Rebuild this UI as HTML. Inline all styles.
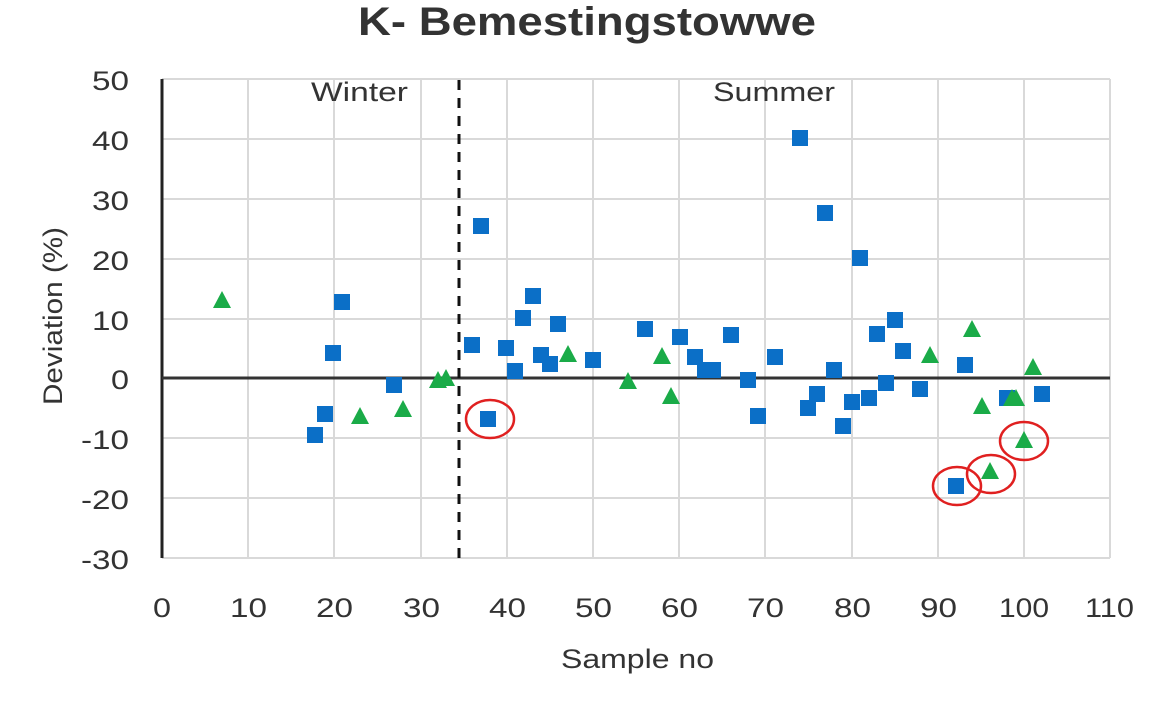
<!DOCTYPE html>
<html><head><meta charset="utf-8"><style>body{margin:0;background:#fff}svg{display:block}</style></head><body>
<svg width="1176" height="701" xmlns="http://www.w3.org/2000/svg" font-family="Liberation Sans, sans-serif">
<rect width="1176" height="701" fill="#fff"/>
<text x="587" y="35" text-anchor="middle" font-size="40" font-weight="bold" fill="#333" textLength="458" lengthAdjust="spacingAndGlyphs">K- Bemestingstowwe</text>
<g stroke="#d9d9d9" stroke-width="2">
<line x1="162" y1="79" x2="1110" y2="79"/><line x1="162" y1="139" x2="1110" y2="139"/><line x1="162" y1="199" x2="1110" y2="199"/><line x1="162" y1="259" x2="1110" y2="259"/><line x1="162" y1="319" x2="1110" y2="319"/><line x1="162" y1="438" x2="1110" y2="438"/><line x1="162" y1="498" x2="1110" y2="498"/><line x1="162" y1="558" x2="1110" y2="558"/>
<line x1="248" y1="79" x2="248" y2="558"/><line x1="334" y1="79" x2="334" y2="558"/><line x1="421" y1="79" x2="421" y2="558"/><line x1="507" y1="79" x2="507" y2="558"/><line x1="593" y1="79" x2="593" y2="558"/><line x1="679" y1="79" x2="679" y2="558"/><line x1="765" y1="79" x2="765" y2="558"/><line x1="852" y1="79" x2="852" y2="558"/><line x1="938" y1="79" x2="938" y2="558"/><line x1="1024" y1="79" x2="1024" y2="558"/><line x1="1110" y1="79" x2="1110" y2="558"/>
</g>
<line x1="162" y1="79" x2="162" y2="558" stroke="#222" stroke-width="3"/>
<line x1="162" y1="378" x2="1110" y2="378" stroke="#333" stroke-width="3"/>
<line x1="459" y1="80" x2="459" y2="558" stroke="#111" stroke-width="3" stroke-dasharray="10,8"/>
<text x="311" y="101" font-size="27" fill="#333" textLength="97" lengthAdjust="spacingAndGlyphs">Winter</text>
<text x="713" y="101" font-size="27" fill="#333" textLength="122" lengthAdjust="spacingAndGlyphs">Summer</text>
<g font-size="27" fill="#333">
<text x="92" y="90" textLength="37" lengthAdjust="spacingAndGlyphs">50</text>
<text x="92" y="150" textLength="37" lengthAdjust="spacingAndGlyphs">40</text>
<text x="92" y="210" textLength="37" lengthAdjust="spacingAndGlyphs">30</text>
<text x="92" y="270" textLength="37" lengthAdjust="spacingAndGlyphs">20</text>
<text x="92" y="330" textLength="37" lengthAdjust="spacingAndGlyphs">10</text>
<text x="111" y="389" textLength="18" lengthAdjust="spacingAndGlyphs">0</text>
<text x="81" y="449" textLength="48" lengthAdjust="spacingAndGlyphs">-10</text>
<text x="81" y="509" textLength="48" lengthAdjust="spacingAndGlyphs">-20</text>
<text x="81" y="569" textLength="48" lengthAdjust="spacingAndGlyphs">-30</text>
</g>
<g font-size="27" fill="#333">
<text x="153" y="617" textLength="18" lengthAdjust="spacingAndGlyphs">0</text>
<text x="230" y="617" textLength="37" lengthAdjust="spacingAndGlyphs">10</text>
<text x="316" y="617" textLength="37" lengthAdjust="spacingAndGlyphs">20</text>
<text x="403" y="617" textLength="37" lengthAdjust="spacingAndGlyphs">30</text>
<text x="489" y="617" textLength="37" lengthAdjust="spacingAndGlyphs">40</text>
<text x="575" y="617" textLength="37" lengthAdjust="spacingAndGlyphs">50</text>
<text x="661" y="617" textLength="37" lengthAdjust="spacingAndGlyphs">60</text>
<text x="747" y="617" textLength="37" lengthAdjust="spacingAndGlyphs">70</text>
<text x="834" y="617" textLength="37" lengthAdjust="spacingAndGlyphs">80</text>
<text x="920" y="617" textLength="37" lengthAdjust="spacingAndGlyphs">90</text>
<text x="999" y="617" textLength="50" lengthAdjust="spacingAndGlyphs">100</text>
<text x="1085" y="617" textLength="49" lengthAdjust="spacingAndGlyphs">110</text>
</g>
<text x="561" y="668" font-size="27" fill="#333" textLength="153" lengthAdjust="spacingAndGlyphs">Sample no</text>
<text transform="translate(62,405) rotate(-90)" font-size="27" fill="#333" textLength="178" lengthAdjust="spacingAndGlyphs">Deviation (%)</text>
<g fill="#0b6fc7" id="sq"></g>
<g id="tr" fill="#1aab48"></g>
<g fill="none" stroke="#e02020" stroke-width="2.5">
<ellipse cx="490" cy="419" rx="24" ry="19"/><ellipse cx="957" cy="486" rx="24" ry="19"/><ellipse cx="991" cy="474" rx="24" ry="19"/><ellipse cx="1024" cy="441" rx="24" ry="19"/>
</g>
<script>
var ns="http://www.w3.org/2000/svg";
var S=[[315,435],[325,414],[333,353],[342,302],[394,385],[472,345],[481,226],[488,419],[506,348],[515,371],[523,318],[533,296],[541,355],[550,364],[558,324],[593,360],[645,329],[680,337],[695,357],[705,370],[713,370],[731,335],[748,380],[758,416],[775,357],[800,138],[808,408],[817,394],[825,213],[834,370],[843,426],[852,402],[860,258],[869,398],[877,334],[886,383],[895,320],[903,351],[920,389],[956,486],[965,365],[1007,398],[1042,394]];
var T=[[222,301],[360,417],[403,410],[438,381],[446,379],[568,355],[628,382],[662,357],[671,397],[930,356],[972,330],[982,407],[990,472],[1012,399],[1016,399],[1024,441],[1033,368]];
var g=document.getElementById("sq");
S.forEach(function(p){var r=document.createElementNS(ns,"rect");r.setAttribute("x",p[0]-8);r.setAttribute("y",p[1]-8);r.setAttribute("width",16);r.setAttribute("height",16);g.appendChild(r);});
var t=document.getElementById("tr");
T.forEach(function(p){var r=document.createElementNS(ns,"polygon");r.setAttribute("points",(p[0])+","+(p[1]-10)+" "+(p[0]-9)+","+(p[1]+7)+" "+(p[0]+9)+","+(p[1]+7));t.appendChild(r);});
</script>
</svg>
</body></html>
